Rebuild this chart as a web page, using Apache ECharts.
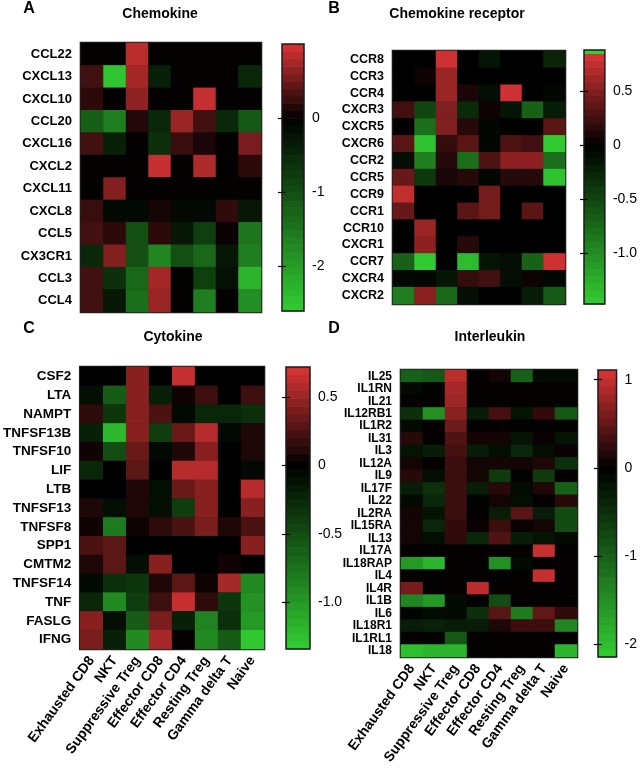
<!DOCTYPE html>
<html><head><meta charset="utf-8">
<script src="https://cdn.jsdelivr.net/npm/echarts@6/dist/echarts.min.js"></script>
<style>html,body{margin:0;padding:0;background:#fff}#c{width:640px;height:770px}</style>
</head><body><div id="c"></div>
<script>
// ---------- DATA ----------
const cellTypes = ['Exhausted CD8','NKT','Suppressive Treg','Effector CD8','Effector CD4','Resting Treg','Gamma delta T','Naive'];

const chemokineGenes = ['CCL22','CXCL13','CXCL10','CCL20','CXCL16','CXCL2','CXCL11','CXCL8','CCL5','CX3CR1','CCL3','CCL4'];
const chemokineValues = [
  [0, 0, 0.85, 0, 0, 0, 0, 0],
  [0.3, -2.5, 0.75, -0.4, 0, 0, 0, -0.5],
  [0.2, 0, 0.65, 0, 0, 0.9, 0, 0],
  [-1.2, -1.6, 0.15, -0.5, 0.7, 0.3, -0.5, -1.1],
  [0.3, -0.4, 0, -0.6, 0.25, 0.12, 0, 0.55],
  [0, 0, 0, 0.9, 0, 0.8, 0, 0.2],
  [0, 0.6, 0, 0, 0, 0, 0, 0],
  [0.25, -0.1, -0.1, 0.1, -0.1, -0.1, 0.22, -0.3],
  [0.3, 0.2, -1.0, 0.2, -0.3, -0.8, 0.05, -1.5],
  [-0.5, 0.6, -1.0, -1.7, -1.0, -1.3, -0.3, -1.6],
  [0.3, -0.6, -1.3, 0.75, 0, -0.8, -0.2, -2.3],
  [0.3, -0.3, -1.4, 0.7, 0, -1.6, 0, -1.8]
];
const chemokineRange = [-2.6, 1.0];
const chemokineTicks = [0, -1, -2];
const chemokineTickLabels = ['0', '-1', '-2'];

const receptorGenes = ['CCR8','CCR3','CCR4','CXCR3','CXCR5','CXCR6','CCR2','CCR5','CCR9','CCR1','CCR10','CXCR1','CCR7','CXCR4','CXCR2'];
const receptorValues = [
  [0, 0, 0.8, 0, -0.15, 0, 0, -0.25],
  [0, 0.05, 0.6, 0, 0, 0, 0, 0],
  [0, 0, 0.6, 0.1, -0.1, 0.8, 0, -0.05],
  [0.25, -0.5, 0.5, -0.3, 0.05, -0.15, -0.7, -0.2],
  [0, -0.8, 0.5, 0.15, -0.05, 0, 0, 0.35],
  [0.35, -1.4, 0.2, 0.35, -0.05, 0.3, 0.25, -1.45],
  [-0.1, -0.9, 0.15, -0.8, 0.3, 0.55, 0.55, -0.8],
  [0.4, -0.4, 0.1, 0.15, -0.05, 0.15, 0.15, -1.4],
  [0.75, 0, 0, 0, 0.45, 0, 0, 0],
  [0.4, 0, 0, 0.35, 0.45, 0, 0.35, 0],
  [0, 0.6, 0, 0, 0, 0, 0, 0],
  [0, 0.55, 0, 0.15, 0, 0, 0, 0],
  [-0.7, -1.45, 0, -1.35, -0.15, -0.1, -0.7, 0.8],
  [-0.05, -0.05, -0.15, 0.2, 0.25, -0.1, 0.05, -0.05],
  [-0.9, 0.55, -0.75, -0.1, 0, 0, -0.2, -0.65]
];
const receptorRange = [-1.47, 0.85];
const receptorTicks = [0.5, 0, -0.5, -1.0];
const receptorTickLabels = ['0.5', '0', '-0.5', '-1.0'];

const cytokineGenes = ['CSF2','LTA','NAMPT','TNFSF13B','TNFSF10','LIF','LTB','TNFSF13','TNFSF8','SPP1','CMTM2','TNFSF14','TNF','FASLG','IFNG'];
const cytokineValues = [
  [0, 0, 0.45, 0, 0.65, 0, 0, 0],
  [-0.1, -0.6, 0.45, -0.2, 0.05, 0.2, 0, 0.2],
  [0.15, -0.35, 0.45, 0.25, -0.05, -0.25, -0.25, -0.3],
  [-0.2, -1.2, 0.45, -0.4, 0.35, 0.6, -0.05, 0.1],
  [0.05, -0.5, 0.35, -0.05, 0.1, 0.45, 0, 0.1],
  [-0.25, 0, 0.3, 0, 0.6, 0.6, 0, -0.05],
  [0, 0, 0.1, -0.1, 0.35, 0.45, 0, 0.6],
  [0.1, -0.1, 0.1, -0.1, -0.4, 0.45, 0, 0.45],
  [0.05, -0.8, 0.05, 0.15, 0.25, 0.4, 0.1, 0.25],
  [0.25, 0.3, 0, 0, 0, 0, 0, 0.45],
  [0.1, 0.3, -0.1, 0.45, 0, 0, 0.05, 0],
  [-0.05, -0.3, -0.35, 0.1, 0.3, 0.05, 0.55, -0.9],
  [-0.25, -0.9, -0.4, 0.2, 0.65, 0.15, -0.35, -0.95],
  [0.45, -0.1, -0.6, 0.4, -0.2, -0.85, -0.3, -1.0],
  [0.4, -0.2, -0.9, 0.55, 0.02, -0.9, -0.6, -1.3]
];
const cytokineRange = [-1.34, 0.72];
const cytokineTicks = [0.5, 0, -0.5, -1.0];
const cytokineTickLabels = ['0.5', '0', '-0.5', '-1.0'];

const interleukinGenes = ['IL25','IL1RN','IL21','IL12RB1','IL1R2','IL31','IL3','IL12A','IL9','IL17F','IL22','IL2RA','IL15RA','IL13','IL17A','IL18RAP','IL4','IL4R','IL1B','IL6','IL18R1','IL1RL1','IL18'];
const interleukinValues = [
  [-1.0, -0.9, 0.95, 0, 0.1, -1.0, -0.1, -0.1],
  [-0.1, 0, 0.85, 0, 0, 0, 0, 0],
  [0, 0, 0.8, 0, 0, 0, 0, 0],
  [-0.5, -1.5, 0.7, -0.3, 0.35, -0.2, 0.25, -0.9],
  [-0.1, 0, 0.55, 0, 0, 0, 0, 0],
  [0.2, 0, 0.4, 0.1, 0.1, -0.2, 0.05, -0.2],
  [-0.2, -0.3, 0.35, -0.3, -0.15, -0.4, -0.15, 0.05],
  [0.1, 0, 0.3, 0.1, 0.1, 0.1, 0.15, -0.5],
  [0.2, -0.15, 0.3, 0.1, -0.6, 0, -0.6, 0],
  [-0.3, -0.5, 0.3, -0.3, 0.2, -0.1, 0.15, -1.0],
  [-0.1, -0.4, 0.3, -0.05, 0.1, -0.15, 0, 0.2],
  [0.1, -0.2, 0.3, 0, -0.3, 0.45, -0.3, -0.8],
  [0.1, -0.4, 0.25, 0.05, 0.3, 0.05, 0.1, -0.8],
  [0.1, -0.15, 0.25, -0.4, 0.4, -0.3, -0.2, -0.1],
  [0, 0, 0, 0, 0, 0, 1.0, 0],
  [-1.6, -1.9, 0, 0, -1.5, -0.1, 0, 0],
  [0, 0, 0, 0, 0, 0, 1.0, 0],
  [0.6, 0, 0, 0.95, 0, 0, 0, 0],
  [-1.4, -1.6, -0.1, 0, -0.8, 0, 0, 0],
  [-0.05, -0.1, -0.1, -0.5, 0.45, -1.3, 0.5, 0.25],
  [-0.3, -0.35, -0.3, -0.3, 0.15, 0.3, 0.3, -1.4],
  [0, 0, -0.9, 0, 0, 0, 0, 0],
  [-2.0, -1.9, -1.9, 0, 0, 0, 0, -1.9]
];
const interleukinRange = [-2.14, 1.11];
const interleukinTicks = [1, 0, -1, -2];
const interleukinTickLabels = ['1', '0', '-1', '-2'];

const titles = ['Chemokine', 'Chemokine receptor', 'Cytokine', 'Interleukin'];
const letters = ['A', 'B', 'C', 'D'];

// ---------- LAYOUT / STYLE ----------
const FONT = '"Liberation Sans", Arial, sans-serif';
const layout = [
  {heat:{left:81, top:43, width:180, height:269}, bar:{left:282, top:44, width:22, height:267}, overflow:0, yFont:13, xLabels:false, title:[160,14], letter:[29,9]},
  {heat:{left:393, top:51, width:172, height:253}, bar:{left:584, top:50, width:23, height:254}, overflow:0.03, yFont:12.5, xLabels:false, title:[457,14], letter:[334,9]},
  {heat:{left:80, top:367, width:184, height:282}, bar:{left:286, top:367, width:24, height:282}, overflow:0, yFont:13.5, xLabels:true, title:[173,337], letter:[29,329]},
  {heat:{left:401, top:370, width:176, height:287}, bar:{left:598, top:370, width:23, height:287}, overflow:0, yFont:12, xLabels:true, title:[490,337], letter:[334,329]}
];
const panels = [
  {genes:chemokineGenes, values:chemokineValues, range:chemokineRange, ticks:chemokineTicks, tickLabels:chemokineTickLabels},
  {genes:receptorGenes, values:receptorValues, range:receptorRange, ticks:receptorTicks, tickLabels:receptorTickLabels},
  {genes:cytokineGenes, values:cytokineValues, range:cytokineRange, ticks:cytokineTicks, tickLabels:cytokineTickLabels},
  {genes:interleukinGenes, values:interleukinValues, range:interleukinRange, ticks:interleukinTicks, tickLabels:interleukinTickLabels}
];

const RED = [218, 52, 52], GREEN = [50, 205, 50];
function colorAt(v, min, max) {
  if (v > max + 1e-9) return 'rgb(' + GREEN.join(',') + ')';   // out-of-range colour of the scale
  let t, c;
  if (v >= 0) { t = Math.min(1, v / max); c = RED; }
  else { t = Math.min(1, v / min); c = GREEN; }
  return 'rgb(' + c.map(x => Math.round(x * t)).join(',') + ')';
}

const grid = [], xAxis = [], yAxis = [], series = [], visualMap = [], graphic = [];
const STEPS = 36;

panels.forEach((p, i) => {
  const L = layout[i];
  const [mn, mx] = p.range;
  // heatmap grid (black background under the cells, outline visible around)
  const gH = grid.length;
  grid.push(Object.assign({show:true, borderColor:'#202020', borderWidth:2.6, backgroundColor:'#000'}, L.heat));
  const xH = xAxis.length;
  xAxis.push({
    type:'category', gridIndex:gH, data:cellTypes,
    axisLine:{show:false}, axisTick:{show:false}, splitLine:{show:false},
    axisLabel:{show:L.xLabels, rotate:54, margin:9, interval:0, color:'#000', fontFamily:FONT, fontWeight:'bold', fontSize:14}
  });
  const yH = yAxis.length;
  yAxis.push({
    type:'category', gridIndex:gH, data:p.genes, inverse:true,
    axisLine:{show:false}, axisTick:{show:false}, splitLine:{show:false},
    axisLabel:{margin:9, interval:0, color:'#000', fontFamily:FONT, fontWeight:'bold', fontSize:L.yFont}
  });
  const data = [];
  p.values.forEach((row, r) => row.forEach((v, c) => data.push([c, r, v])));
  const sH = series.length;
  series.push({type:'heatmap', xAxisIndex:xH, yAxisIndex:yH, data:data, emphasis:{disabled:true}, itemStyle:{borderWidth:0}});
  const stops = [];
  for (let k = 0; k <= 60; k++) stops.push(colorAt(mn + (mx - mn) * k / 60, mn, mx));
  visualMap.push({type:'continuous', show:false, seriesIndex:sH, dimension:2, min:mn, max:mx, inRange:{color:stops}});

  // colorbar grid
  const top = mx + L.overflow;
  const gB = grid.length;
  grid.push(Object.assign({show:true, z:10, borderColor:'#1a1a1a', borderWidth:1.5, backgroundColor:'transparent'}, L.bar));
  const xB = xAxis.length;
  xAxis.push({type:'value', gridIndex:gB, min:0, max:1, show:false});
  const yB = yAxis.length;
  yAxis.push({
    type:'value', gridIndex:gB, min:mn, max:top, position:'right', z:11,
    axisLine:{show:false}, splitLine:{show:false},
    axisTick:{show:true, inside:true, length:4, customValues:p.ticks, lineStyle:{color:'#000', width:1.2}},
    axisLabel:{show:true, margin:8, customValues:p.ticks, color:'#000', fontFamily:FONT, fontSize:14,
      formatter:(v) => { const idx = p.ticks.findIndex(t => Math.abs(t - v) < 1e-9); return idx >= 0 ? p.tickLabels[idx] : ''; }}
  });
  yAxis.push({
    type:'value', gridIndex:gB, min:mn, max:top, position:'left', z:11,
    axisLine:{show:false}, splitLine:{show:false},
    axisTick:{show:true, inside:true, length:4, customValues:p.ticks, lineStyle:{color:'#000', width:1.2}},
    axisLabel:{show:false}
  });
  const steps = [];
  for (let k = 0; k < STEPS; k++) steps.push([mn + (mx - mn) * k / STEPS, mn + (mx - mn) * (k + 1) / STEPS]);
  if (L.overflow > 0) steps.push([mx, top]);
  series.push({
    type:'custom', xAxisIndex:xB, yAxisIndex:yB, data:steps, silent:true,
    renderItem:(params, api) => {
      const lo = api.value(0), hi = api.value(1);
      const a = api.coord([0, hi]), b = api.coord([1, lo]);
      return {type:'rect', shape:{x:a[0], y:a[1], width:b[0]-a[0], height:b[1]-a[1]+0.6},
        style:{fill:colorAt((lo + hi) / 2, mn, mx)}};
    }
  });

  graphic.push({type:'text', x:L.title[0], y:L.title[1], style:{text:titles[i], font:'bold 14px ' + FONT, fill:'#000', textAlign:'center', textVerticalAlign:'middle'}});
  graphic.push({type:'text', x:L.letter[0], y:L.letter[1], style:{text:letters[i], font:'bold 16px ' + FONT, fill:'#000', textAlign:'center', textVerticalAlign:'middle'}});
});

const chart = echarts.init(document.getElementById('c'), null, {renderer:'canvas'});
chart.setOption({animation:false, backgroundColor:'#fff', grid, xAxis, yAxis, visualMap, series, graphic});
</script></body></html>
